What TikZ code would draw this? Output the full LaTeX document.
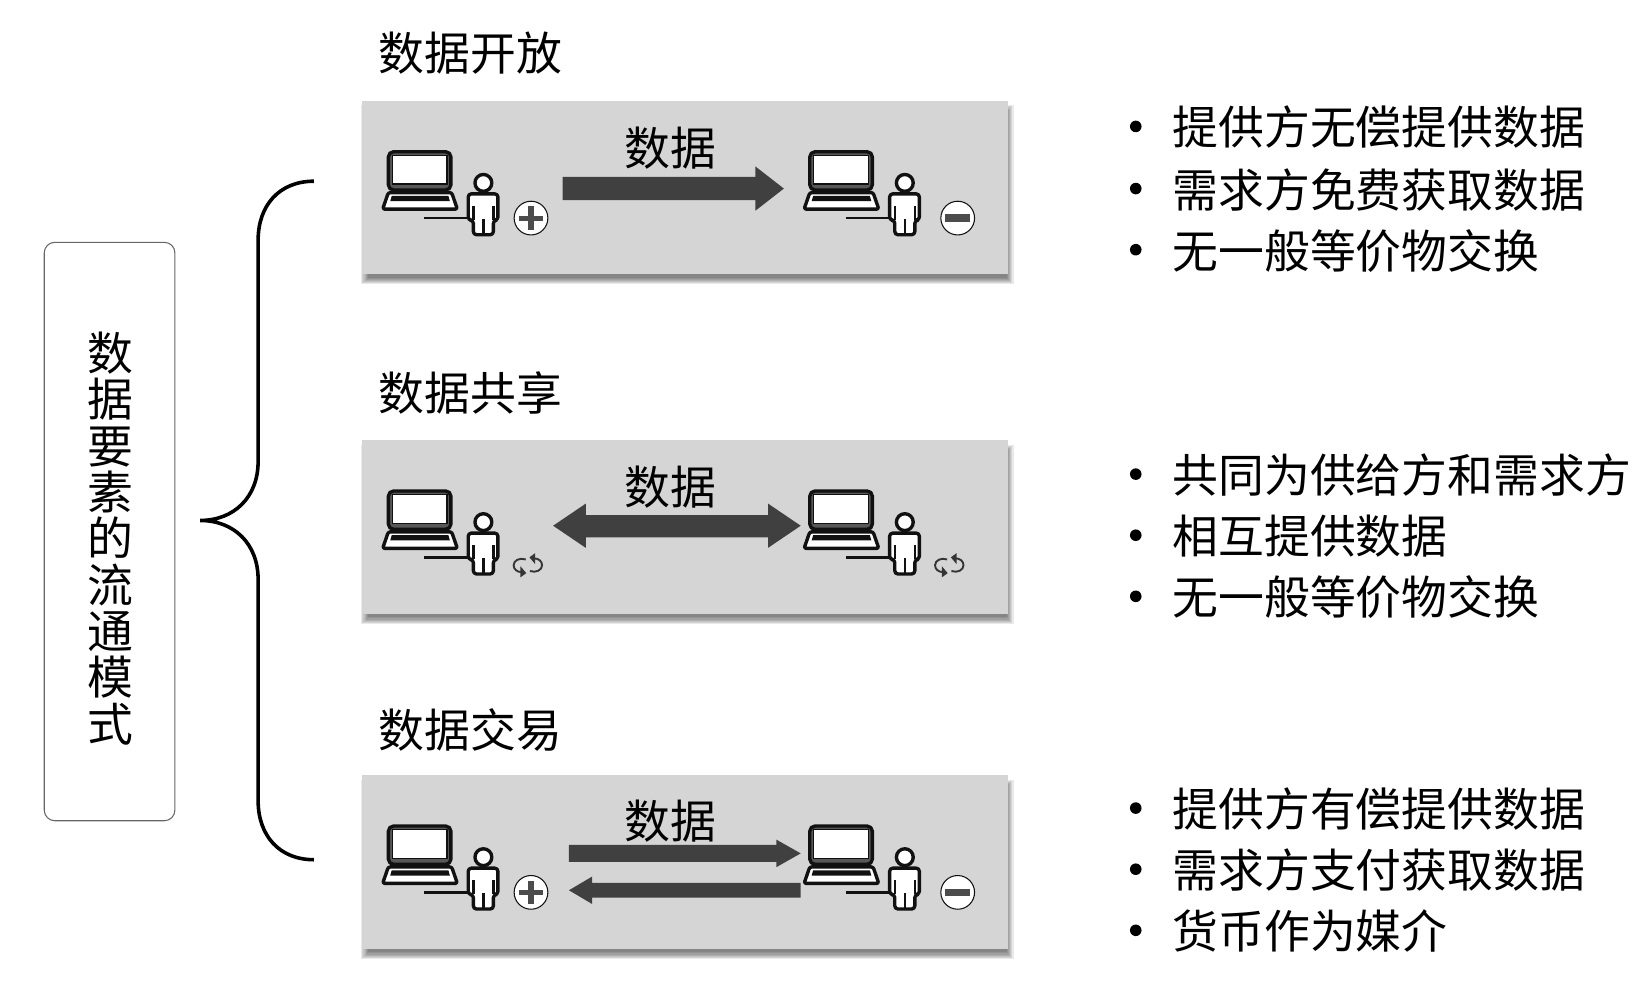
\documentclass[tikz,border=0pt]{standalone}
\usepackage{fontspec}
\setmainfont{Noto Sans CJK SC}
\usetikzlibrary{calc}
\definecolor{panelgray}{HTML}{D5D5D5}
\definecolor{arrowgray}{HTML}{404040}
\definecolor{iconblack}{HTML}{111111}
\tikzset{
  panel/.style={fill=panelgray,draw=none,minimum width=306.5pt,minimum height=82.5pt,anchor=north west,inner sep=0pt},
  txt/.style={inner sep=0pt,font=\fontsize{21.75pt}{22pt}\selectfont,text=black},
  title/.style={txt,anchor=west},
  item/.style={txt,anchor=west},
  bigarrow/.style={fill=arrowgray,draw=none},
  iconline/.style={draw=iconblack,line width=1.6pt,line join=round},
  pics/station/.style={code={
    % laptop screen
    \draw[iconline,fill=iconblack!70,rounded corners=2.5pt] (25.6,48) rectangle (85,84.4);
    \draw[draw=iconblack,line width=.6pt,fill=white] (29.4,51.6) rectangle (81.2,78.6);
    % laptop base
    \draw[iconline,fill=white,rounded corners=1pt] (25.6,86.8) -- (85.7,86.8) -- (91.1,102.5) -- (20.2,102.5) -- cycle;
    \fill[iconblack] (28.8,90) -- (82.6,90) -- (84,95) -- (27.4,95) -- cycle;
    % desk line
    \draw[iconblack,line width=1.3pt] (59.8,111) -- (101,111);
    % person
    \draw[iconline,fill=white] (115.8,77.6) circle[radius=8];
    \draw[iconline,fill=white,rounded corners=1.5pt] (101.4,113) -- (101.4,88) -- (129.6,88) -- (129.6,113) -- (125.3,113) -- (125.3,126.8) -- (106.3,126.8) -- (106.3,113) -- cycle;
    \draw[iconblack,line width=1.2pt] (106.3,99.3) -- (106.3,113) (125.3,99.3) -- (125.3,113) (115.8,112) -- (115.8,126.5);
  }},
  pics/plusmark/.style={code={
    \draw[draw=iconblack,line width=.5pt,fill=white] (0,0) circle[radius=16];
    \fill[iconblack!75] (-11,-2.4) rectangle (11,2.4);
    \fill[iconblack!75] (-2.4,-11) rectangle (2.4,11);
  }},
  pics/minusmark/.style={code={
    \draw[draw=iconblack,line width=.5pt,fill=white] (0,0) circle[radius=16];
    \fill[iconblack!75] (-12,-3.5) rectangle (12,3.5);
  }},
  halfcycle/.pic={
    \draw[iconblack!85,line width=.9pt] (-2,-6) .. controls (-8,-8) and (-13.5,-5) .. (-13.5,-.5) .. controls (-13.5,3.5) and (-10,6) .. (-6,6);
    \fill[iconblack!85] (-7,.5) -- (-1.5,7) -- (-7,11) -- cycle;
  },
  pics/cyclemark/.style={code={
    \pic at (0,0) {halfcycle};
    \pic[rotate=180] at (0,-1) {halfcycle};
  }},
}
\begin{document}
\begin{tikzpicture}[x=0.5pt,y=-0.5pt]
\useasboundingbox (0,0) rectangle (1568,946);
\fill[white] (0,0) rectangle (1568,946);

% left box and brace
\node[draw=black!60,line width=.5pt,rounded corners=5pt,minimum width=62pt,minimum height=274.5pt,inner sep=0pt] (root) at (104,504.5) {};
\node[txt,align=center] (rootlabel) at (105,511) {数\\据\\要\\素\\的\\流\\通\\模\\式};
\coordinate (bt) at (298,172);
\coordinate (bm) at (190,494);
\coordinate (bb) at (298,816);
\draw[black,line width=1.7pt] (bt) .. controls (265,172) and (245,195) .. (245,228)
  -- (245,438) .. controls (245,472) and (222,494) .. (bm)
  .. controls (222,494) and (245,516) .. (245,550)
  -- (245,760) .. controls (245,793) and (265,816) .. (bb);

% panels with soft shadows
\foreach \py/\nm in {95/p1,417/p2,735/p3}{
  \foreach \g in {0,1,...,6}{
    \fill[black,opacity=.085] ({343+\g},{\py+5+\g}) rectangle ({956+6-\g},{\py+165+10-\g});
  }
  \node[panel] (\nm) at (343,\py) {};
}

% titles
\node[title] (t1) at (359,50) {数据开放};
\node[title] (t2) at (359,373) {数据共享};
\node[title] (t3) at (359,693) {数据交易};

% data labels
\node[txt] (d1) at (636.5,141) {数据};
\node[txt] (d2) at (636.5,462) {数据};
\node[txt] (d3) at (636.5,779) {数据};

% stations
\pic at ($(p1.north west)+(0,1)$) {station};
\pic at ($(p1.north west)+(400,1)$) {station};
\pic at ($(p2.north west)+(0,1)$) {station};
\pic at ($(p2.north west)+(400,1)$) {station};
\pic at ($(p3.north west)+(0,1)$) {station};
\pic at ($(p3.north west)+(400,1)$) {station};

\pic at ($(p1.north west)+(161,112)$) {plusmark};
\pic at ($(p1.north west)+(566,112)$) {minusmark};
\pic at ($(p2.north west)+(158,120)$) {cyclemark};
\pic at ($(p2.north west)+(558,120)$) {cyclemark};
\pic at ($(p3.north west)+(161,112)$) {plusmark};
\pic at ($(p3.north west)+(566,112)$) {minusmark};

% arrows
\fill[bigarrow] (534,168) -- (717,168) -- (717,158) -- (744,179) -- (717,200) -- (717,190) -- (534,190) -- cycle;
\fill[bigarrow] (525,499) -- (556,478) -- (556,489) -- (729,489) -- (729,478) -- (760,499) -- (729,520) -- (729,510) -- (556,510) -- (556,520) -- cycle;
\fill[bigarrow] (540,802) -- (737,802) -- (737,797) -- (760,810) -- (737,823) -- (737,818) -- (540,818) -- cycle;
\fill[bigarrow] (760,838) -- (562,838) -- (562,832) -- (540,845) -- (562,858) -- (562,852) -- (760,852) -- cycle;

% bullet lists
\foreach \yy/\tx/\nm in {
  120/提供方无偿提供数据/a1,179/需求方免费获取数据/a2,237/无一般等价物交换/a3,
  450/共同为供给方和需求方/b1,508/相互提供数据/b2,566/无一般等价物交换/b3,
  767/提供方有偿提供数据/c1,825/需求方支付获取数据/c2,883/货币作为媒介/c3}{
  \fill[black] (1078,\yy) circle[radius=5.5];
  \node[item] (\nm) at (1112.5,\yy+1) {\tx};
}
\end{tikzpicture}
\end{document}
